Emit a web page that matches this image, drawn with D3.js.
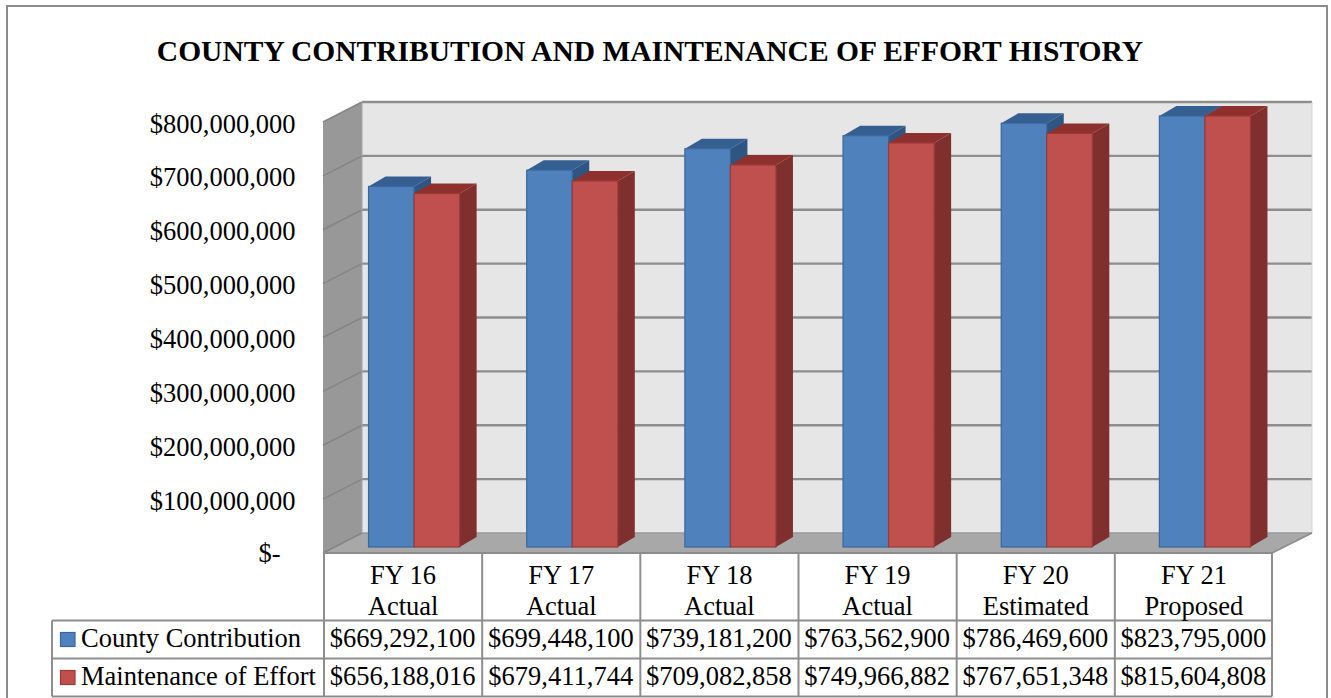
<!DOCTYPE html>
<html>
<head>
<meta charset="utf-8">
<script src="https://d3js.org/d3.v7.min.js"></script>
<style>
  html, body { margin: 0; padding: 0; background: #fff; overflow: hidden; }
  text { font-family: "Liberation Serif", serif; fill: #000; }
</style>
</head>
<body>
<div id="chart"></div>
<script>
/* County contribution chart with fake 3d bars and a data table under it */

const title = "COUNTY CONTRIBUTION AND MAINTENANCE OF EFFORT HISTORY";
const years = ["FY 16", "FY 17", "FY 18", "FY 19", "FY 20", "FY 21"];
const yearStatus = ["Actual", "Actual", "Actual", "Actual", "Estimated", "Proposed"];
const seriesNames = ["County Contribution", "Maintenance of Effort"];
const county = [669292100, 699448100, 739181200, 763562900, 786469600, 823795000];
const effort = [656188016, 679411744, 709082858, 749966882, 767651348, 815604808];
const tickValues = [0, 100000000, 200000000, 300000000, 400000000, 500000000, 600000000, 700000000, 800000000];

const width = 1331,
      height = 698,
      floorY = 553,      // front edge of the chart floor
      topY = 122,
      leftX = 323,
      rightX = 1272,
      depthX = 39,       // how far the back wall is shifted from the front
      depthY = 20,
      fontSize = 26.5;

const colors = [
    {front: "#4f81bd", top: "#355f91", side: "#2f5583", edge: "#3a689e"},
    {front: "#c0504d", top: "#8e302e", side: "#7f302e", edge: "#9a3a38"}
];

let svg = d3.select("#chart")
    .append("svg")
    .attr("width", width)
    .attr("height", height)
    .style("display", "block");

// outer frame
svg.append("rect")
    .attr("x", 7).attr("y", 6)
    .attr("width", 1320).attr("height", 700)
    .attr("fill", "none")
    .attr("stroke", "#8c8c8c")
    .attr("stroke-width", 2);

svg.append("text")
    .attr("x", 650)
    .attr("y", 60.5)
    .attr("text-anchor", "middle")
    .attr("font-size", 29.5)
    .attr("font-weight", "bold")
    .text(title);

let x = d3.scaleBand()
    .domain(years)
    .range([leftX, rightX]);

let y = d3.scaleLinear()
    .domain([0, 800000000])
    .range([floorY, topY])
    .clamp(true);

// walls
const pts = a => a.map(p => p.join(",")).join(" ");

svg.append("polygon")
    .attr("points", pts([[leftX + depthX, floorY - depthY], [rightX + depthX + 1, floorY - depthY], [rightX + depthX + 1, topY - depthY], [leftX + depthX, topY - depthY]]))
    .attr("fill", "#e6e6e6");

svg.append("polygon")
    .attr("points", pts([[leftX, floorY], [leftX + depthX, floorY - depthY], [leftX + depthX, topY - depthY], [leftX, topY]]))
    .attr("fill", "#989898");

svg.append("polygon")
    .attr("points", pts([[leftX, floorY], [rightX, floorY], [rightX + depthX + 1, floorY - depthY], [leftX + depthX, floorY - depthY]]))
    .attr("fill", "#a8a8a8");

// gridlines on the back wall and the side wall
let grid = svg.append("g")
    .attr("fill", "none");

grid.selectAll(".back")
    .data(tickValues.slice(1))
    .join("line")
    .attr("class", "back")
    .attr("x1", leftX + depthX)
    .attr("x2", rightX + depthX + 1)
    .attr("y1", d => y(d) - depthY)
    .attr("y2", d => y(d) - depthY)
    .attr("stroke", "#8e8e8e")
    .attr("stroke-width", 2.4);

grid.selectAll(".side")
    .data(tickValues)
    .join("line")
    .attr("class", "side")
    .attr("x1", leftX)
    .attr("x2", leftX + depthX)
    .attr("y1", d => y(d))
    .attr("y2", d => y(d) - depthY)
    .attr("stroke", "#858585")
    .attr("stroke-width", 1.6);

grid.append("line")
    .attr("x1", leftX + depthX).attr("x2", leftX + depthX)
    .attr("y1", topY - depthY).attr("y2", floorY - depthY)
    .attr("stroke", "#a4a4a4")
    .attr("stroke-width", 1);

grid.append("line")
    .attr("x1", rightX + depthX + 1).attr("x2", rightX + depthX + 1)
    .attr("y1", topY - depthY).attr("y2", floorY - depthY)
    .attr("stroke", "#d4d4d4")
    .attr("stroke-width", 1);

grid.append("line")
    .attr("x1", leftX + depthX).attr("x2", rightX + depthX + 1)
    .attr("y1", floorY - depthY).attr("y2", floorY - depthY)
    .attr("stroke", "#9a9a9a")
    .attr("stroke-width", 1.5);

grid.append("line")
    .attr("x1", leftX).attr("x2", rightX)
    .attr("y1", floorY).attr("y2", floorY)
    .attr("stroke", "#8c8c8c")
    .attr("stroke-width", 2);

grid.append("line")
    .attr("x1", rightX).attr("x2", rightX + depthX + 1)
    .attr("y1", floorY).attr("y2", floorY - depthY)
    .attr("stroke", "#8c8c8c")
    .attr("stroke-width", 1.5);

// y axis labels, the zero label sits further left as in an accounting format
const yAxis = g => g
    .attr("transform", `translate(${leftX - 27.5},0)`)
    .call(d3.axisLeft(y).tickValues(tickValues).tickSize(0).tickPadding(0)
        .tickFormat(d => d === 0 ? "$-" : d3.format("$,")(d)))
    .call(g => g.select(".domain").remove())
    .call(g => g.selectAll("text")
        .attr("font-size", fontSize)
        .attr("dx", d => d === 0 ? -15 : 0)
        .attr("dy", d => d === 0 ? 8 : 10));

svg.append("g").call(yAxis);

// 3d bars, they stand a little in from the front of the floor
const barShiftX = 12,
      barShiftY = 6,
      sideX = 17,
      sideY = 10,
      barW = x.bandwidth() * 0.288;

// left to right, so each red top overlaps the blue side next to it
years.forEach((yr, i) => {
    [county[i], effort[i]].forEach((v, idx) => {
        let c = colors[idx];
        let x0 = x(yr) + (x.bandwidth() - 2 * barW) / 2 + barShiftX + idx * barW,
            x1 = x0 + barW,
            yT = y(v) - barShiftY,
            yB = y(0) - barShiftY;
        let g = svg.append("g");
        g.append("polygon")
            .attr("points", pts([[x0, yT], [x1, yT], [x1 + sideX, yT - sideY], [x0 + sideX, yT - sideY]]))
            .attr("fill", c.top);
        g.append("polygon")
            .attr("points", pts([[x1, yT], [x1 + sideX, yT - sideY], [x1 + sideX, yB - sideY], [x1, yB]]))
            .attr("fill", c.side);
        g.append("rect")
            .attr("x", x0)
            .attr("y", yT)
            .attr("width", barW)
            .attr("height", yB - yT)
            .attr("fill", c.front)
            .attr("stroke", c.edge)
            .attr("stroke-width", 1.2);
    });
});

// data table
const rowTop = 620.5,
      rowH = 38,
      tableLeft = 52;

let table = svg.append("g")
    .attr("fill", "none")
    .attr("stroke", "#8e8e8e");

table.selectAll(".hline")
    .data([0, 1, 2])
    .join("line")
    .attr("class", "hline")
    .attr("x1", tableLeft)
    .attr("x2", rightX)
    .attr("y1", d => rowTop + d * rowH)
    .attr("y2", d => rowTop + d * rowH)
    .attr("stroke-width", 2);

table.selectAll(".vline")
    .data(years)
    .join("line")
    .attr("class", "vline")
    .attr("x1", d => x(d) + 1)
    .attr("x2", d => x(d) + 1)
    .attr("y1", floorY)
    .attr("y2", rowTop + 2 * rowH)
    .attr("stroke-width", 2);

table.append("line")
    .attr("x1", rightX).attr("x2", rightX)
    .attr("y1", floorY).attr("y2", rowTop + 2 * rowH)
    .attr("stroke-width", 2);

table.append("line")
    .attr("x1", tableLeft).attr("x2", tableLeft)
    .attr("y1", rowTop).attr("y2", rowTop + 2 * rowH)
    .attr("stroke-width", 2);

let head = svg.append("g")
    .attr("text-anchor", "middle")
    .attr("font-size", fontSize);

head.selectAll(".year")
    .data(years)
    .join("text")
    .attr("class", "year")
    .attr("x", d => x(d) + x.bandwidth() / 2 + 1)
    .attr("y", 584)
    .text(d => d);

head.selectAll(".status")
    .data(yearStatus)
    .join("text")
    .attr("class", "status")
    .attr("x", (d, i) => x(years[i]) + x.bandwidth() / 2 + 1)
    .attr("y", 615)
    .text(d => d);

[county, effort].forEach((values, r) => {
    let rowY = rowTop + r * rowH + 26.5;
    svg.append("rect")
        .attr("x", 60.5)
        .attr("y", rowTop + r * rowH + 12)
        .attr("width", 14.5)
        .attr("height", 14)
        .attr("fill", colors[r].front)
        .attr("stroke", colors[r].edge)
        .attr("stroke-width", 1.2);
    svg.append("text")
        .attr("x", 81)
        .attr("y", rowY)
        .attr("font-size", fontSize)
        .text(seriesNames[r]);
    svg.append("g")
        .attr("text-anchor", "middle")
        .attr("font-size", fontSize)
        .selectAll("text")
        .data(values)
        .join("text")
        .attr("x", (d, i) => x(years[i]) + x.bandwidth() / 2 + 0.5)
        .attr("y", rowY)
        .text(d => d3.format("$,")(d));
});
</script>
</body>
</html>
